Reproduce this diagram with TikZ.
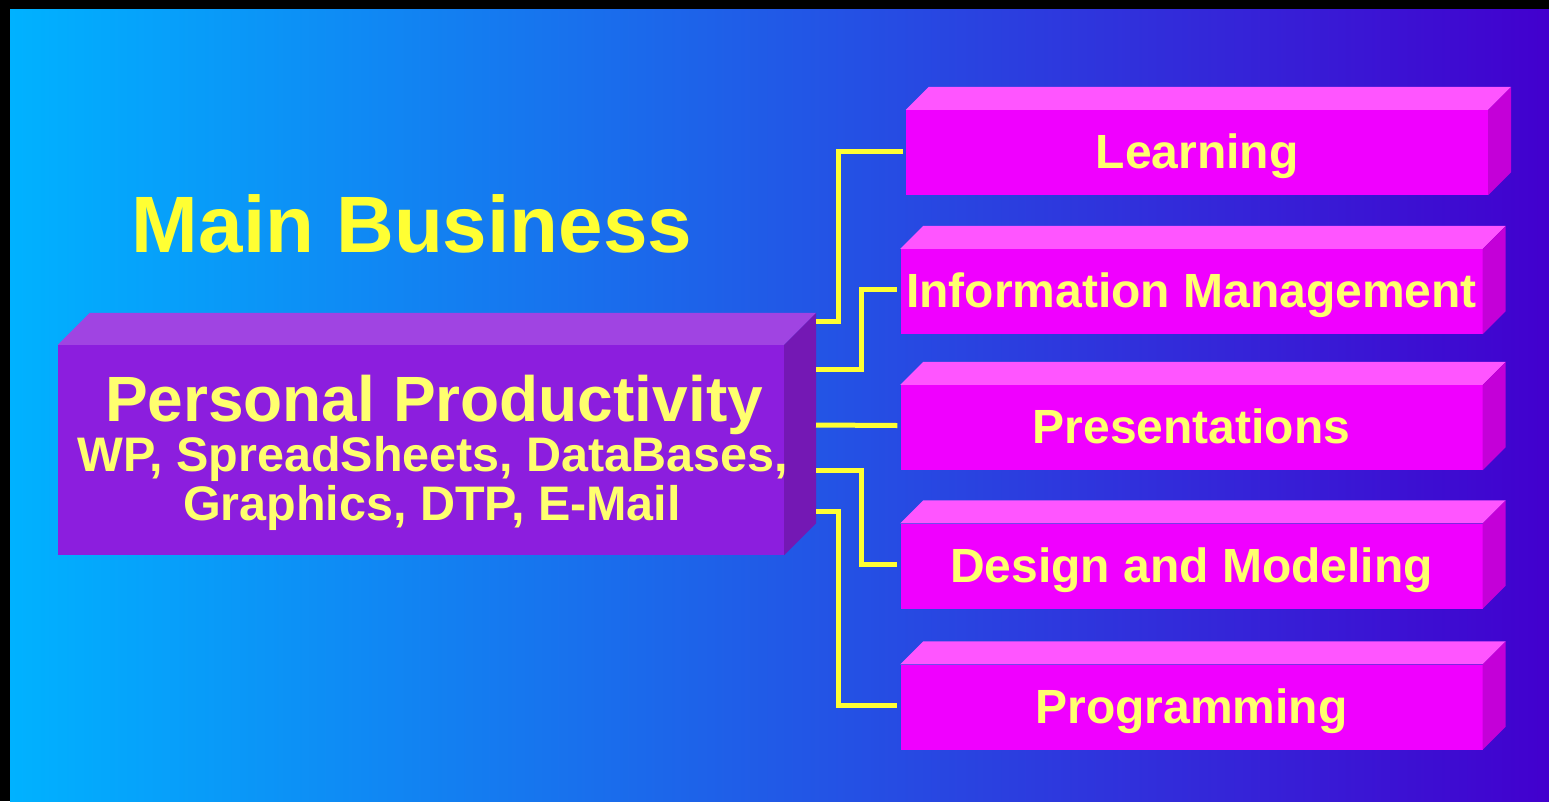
\documentclass[tikz,border=0pt]{standalone}
\usepackage{fontspec}
\setmainfont{Liberation Sans}
\definecolor{bgleft}{HTML}{00B2FF}
\definecolor{bgright}{HTML}{4200CE}
\definecolor{ppfront}{HTML}{8C1EDE}
\definecolor{pptop}{HTML}{A044E2}
\definecolor{ppside}{HTML}{7418B4}
\definecolor{pkfront}{HTML}{F000FF}
\definecolor{pktop}{HTML}{FF55FF}
\definecolor{pkside}{HTML}{C400D8}
\definecolor{wire}{HTML}{FFFF33}
\definecolor{lbl}{HTML}{FFFF6E}
\begin{document}
\begin{tikzpicture}[x=1pt,y=-1pt,
  main box/.style={fill=ppfront,minimum width=726pt,minimum height=210pt,inner sep=0pt},
  task box/.style={fill=pkfront,minimum width=582pt,minimum height=85pt,inner sep=0pt,
    text=lbl,font=\fontsize{48}{48}\selectfont\bfseries,text height=34pt,text depth=2pt},
  link/.style={draw=wire,line width=5pt}]

  % background with the black rim on top and left
  \fill[black] (0,0) rectangle (1549,801);
  \shade[left color=bgleft,right color=bgright] (10,9) rectangle (1549,801);

  \node[anchor=base,text=wire,font=\fontsize{80}{80}\selectfont\bfseries] (title) at (412,252){Main Business};

  % purple block
  \node[main box] (pp) at (421,450){};
  \fill[pptop] (pp.north west) -- ([shift={(32,-32)}]pp.north west) -- ([shift={(32,-32)}]pp.north east) -- (pp.north east) -- cycle;
  \fill[ppside] (pp.north east) -- ([shift={(32,-32)}]pp.north east) -- ([shift={(32,-32)}]pp.south east) -- (pp.south east) -- cycle;
  \node[anchor=base,text=lbl,font=\fontsize{64}{64}\selectfont\bfseries] (ppname) at (434,421){Personal Productivity};
  \node[anchor=base,text=lbl,font=\fontsize{48.5}{48}\selectfont\bfseries] (ppapps) at (433,471){WP, SpreadSheets, DataBases,};
  \node[anchor=base,text=lbl,font=\fontsize{48.5}{48}\selectfont\bfseries] (ppmore) at (432,520){Graphics, DTP, E-Mail};

  % pink blocks
  \node[task box] (lrn) at (1197,152.5){Learning};
  \node[task box] (inf) at (1191.5,291.5){Information Management};
  \node[task box] (pres) at (1191.5,427.5){Presentations};
  \node[task box] (dsgn) at (1191.5,566){Design and Modeling};
  \node[task box] (prog) at (1191.5,707){Programming};

  \fill[pktop] (lrn.north west) -- ([shift={(23,-23)}]lrn.north west) -- ([shift={(23,-23)}]lrn.north east) -- (lrn.north east) -- cycle;
  \fill[pkside] (lrn.north east) -- ([shift={(23,-23)}]lrn.north east) -- ([shift={(23,-23)}]lrn.south east) -- (lrn.south east) -- cycle;
  \fill[pktop] (inf.north west) -- ([shift={(23,-23)}]inf.north west) -- ([shift={(23,-23)}]inf.north east) -- (inf.north east) -- cycle;
  \fill[pkside] (inf.north east) -- ([shift={(23,-23)}]inf.north east) -- ([shift={(23,-23)}]inf.south east) -- (inf.south east) -- cycle;
  \fill[pktop] (pres.north west) -- ([shift={(23,-23)}]pres.north west) -- ([shift={(23,-23)}]pres.north east) -- (pres.north east) -- cycle;
  \fill[pkside] (pres.north east) -- ([shift={(23,-23)}]pres.north east) -- ([shift={(23,-23)}]pres.south east) -- (pres.south east) -- cycle;
  \fill[pktop] (dsgn.north west) -- ([shift={(23,-23)}]dsgn.north west) -- ([shift={(23,-23)}]dsgn.north east) -- (dsgn.north east) -- cycle;
  \fill[pkside] (dsgn.north east) -- ([shift={(23,-23)}]dsgn.north east) -- ([shift={(23,-23)}]dsgn.south east) -- (dsgn.south east) -- cycle;
  \fill[pktop] (prog.north west) -- ([shift={(23,-23)}]prog.north west) -- ([shift={(23,-23)}]prog.north east) -- (prog.north east) -- cycle;
  \fill[pkside] (prog.north east) -- ([shift={(23,-23)}]prog.north east) -- ([shift={(23,-23)}]prog.south east) -- (prog.south east) -- cycle;

  % wires leave the back edge of the purple block
  \coordinate (w1) at (816,321);
  \coordinate (w2) at (816,369);
  \coordinate (w3) at (816,425);
  \coordinate (w4) at (816,470);
  \coordinate (w5) at (816,511);

  \draw[link] (w1) -- ++(22,0) |- ([xshift=-3pt,yshift=1pt]lrn.west);
  \draw[link] (w2) -- ++(45,0) |- ([xshift=-3pt,yshift=2pt]inf.west);
  \draw[link] (w3) -- ([xshift=-3pt,yshift=2pt]pres.west);
  \draw[link] (w4) -- ++(45,0) |- ([xshift=-3pt,yshift=2pt]dsgn.west);
  \draw[link] (w5) -- ++(22,0) |- ([xshift=-3pt,yshift=2pt]prog.west);
\end{tikzpicture}
\end{document}
